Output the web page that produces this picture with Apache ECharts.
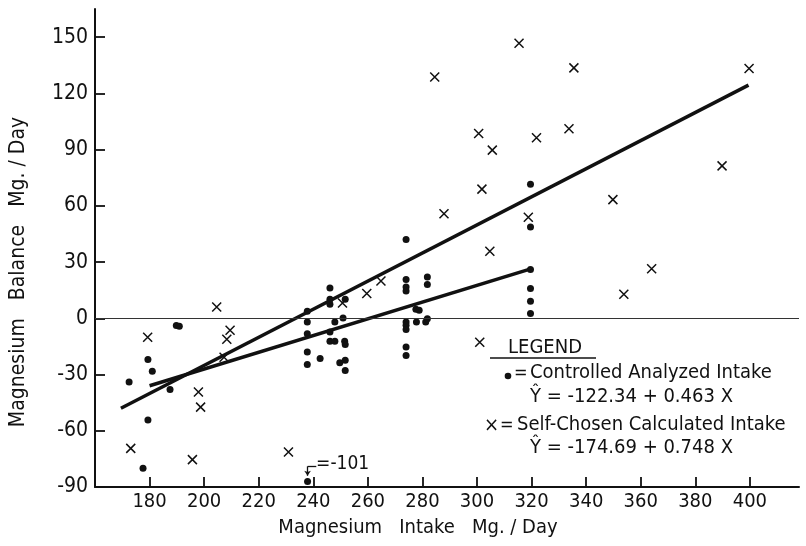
<!DOCTYPE html>
<html>
<head>
<meta charset="utf-8">
<script src="https://cdn.jsdelivr.net/npm/echarts@6/dist/echarts.min.js"></script>
<style>html,body{margin:0;padding:0;background:#fff}#c{width:806px;height:546px}</style>
</head>
<body>
<div id="c"></div>
<script>
const FONT = '"Liberation Sans Narrow","DejaVu Sans Condensed","Roboto Condensed","Liberation Sans",sans-serif';
const INK = '#111111';

const xTicks = [180, 200, 220, 240, 260, 280, 300, 320, 340, 360, 380, 400];
const yTicks = [-90, -60, -30, 0, 30, 60, 90, 120, 150];

// Controlled analyzed intake (dots)
const controlled = [
  [172.5, -34], [177.6, -80], [179.4, -22], [179.4, -54.3], [181, -28.3], [187.5, -38], [189.8, -3.9], [190.9, -4.3],
  [237.8, 3.7], [237.8, -2], [237.8, -8.2], [237.8, -18], [237.8, -24.7], [242.5, -21.5],
  [246.1, 16.2], [246.1, 10.1], [246.1, 7.5], [246.1, -7.3], [246.1, -12.3], [247.9, -12.3], [247.9, -2],
  [250.9, 0.2], [251.7, 10.1], [251.5, -12.3], [251.7, -14], [249.7, -23.7], [251.7, -22.4], [251.7, -27.8],
  [274, 42], [274, 20.7], [274, 16.7], [274, 14.6], [274, -2], [274, -3.7], [274, -6], [274, -15.3], [274, -19.8],
  [277.6, 4.8], [278.8, 4.3], [277.8, -2], [281.2, -2], [281.8, -0.2], [281.8, 22], [281.8, 18],
  [319.6, 71.5], [319.6, 48.7], [319.6, 26], [319.6, 15.9], [319.6, 9.1], [319.6, 2.5]
];

// Self-chosen calculated intake (crosses)
const selfChosen = [
  [173.1, -69.4], [179.3, -10.1], [195.7, -75.4], [197.9, -39.3], [198.7, -47.4], [204.6, 6], [208.3, -11.2],
  [209.5, -6.4], [207.3, -20.8], [230.9, -71.3], [250.7, 8.2], [259.6, 13.2], [264.8, 19.9], [284.5, 128.7],
  [287.9, 55.8], [300.6, 98.6], [301, -12.8], [301.8, 68.9], [304.7, 35.8], [305.6, 89.7], [315.4, 146.7],
  [318.8, 53.9], [321.8, 96.3], [333.7, 101.1], [335.5, 133.6], [349.8, 63.3], [353.8, 12.8], [364, 26.4],
  [389.8, 81.3], [399.7, 133.3]
];

// Regression lines (end points)
const controlledFit = [[180, -36], [320, 26.5]];
const selfFit = [[169.5, -48], [399.5, 124.4]];

// Off-scale controlled point (drawn at the bottom edge, true value -101)
const offScale = { x: 237.9, shownAt: -87, actual: -101 };

const legendTitle = 'LEGEND';
const legendControlled = 'Controlled Analyzed Intake';
const eqControlled = 'Ŷ = -122.34 + 0.463 X';
const legendSelf = 'Self-Chosen Calculated Intake';
const eqSelf = 'Ŷ = -174.69 + 0.748 X';

const chart = echarts.init(document.getElementById('c'), null, { renderer: 'canvas' });

const txt = (text, left, y, size) => ({
  type: 'text', left: left, top: y - size * 0.6,
  style: { text: text, fill: INK, font: size + 'px ' + FONT }
});

chart.setOption({
  animation: false,
  backgroundColor: '#fff',
  textStyle: { fontFamily: FONT, color: INK },
  grid: { left: 90, right: 7, top: 9, bottom: 59, containLabel: false },
  xAxis: {
    type: 'value', min: 160, max: 418,
    name: 'Magnesium   Intake   Mg. / Day',
    nameLocation: 'middle', nameGap: 31,
    nameTextStyle: { fontSize: 20, color: INK, fontFamily: FONT, padding: [0, 58, 0, 0] },
    axisLine: { show: true, onZero: false, lineStyle: { color: INK, width: 2 } },
    axisTick: { show: true, inside: true, length: 10, customValues: xTicks, lineStyle: { color: INK, width: 1.8 } },
    axisLabel: { customValues: xTicks, fontSize: 20, color: INK, margin: 5, fontFamily: FONT },
    splitLine: { show: false }
  },
  yAxis: {
    type: 'value', min: -90, max: 165,
    name: 'Magnesium   Balance   Mg. / Day',
    nameLocation: 'middle', nameGap: 66, nameRotate: 90,
    nameTextStyle: { fontSize: 21, color: INK, fontFamily: FONT, padding: [0, 48, 0, 0] },
    axisLine: { show: true, onZero: false, lineStyle: { color: INK, width: 2 } },
    axisTick: { show: true, inside: true, length: 10, customValues: yTicks, lineStyle: { color: INK, width: 1.8 } },
    axisLabel: { customValues: yTicks, fontSize: 21, color: INK, margin: 7, fontFamily: FONT },
    splitLine: { show: false }
  },
  series: [
    {
      type: 'scatter', name: 'Controlled', data: controlled,
      symbol: 'circle', symbolSize: 7, itemStyle: { color: INK, opacity: 1 },
      markLine: {
        silent: true, symbol: 'none', label: { show: false },
        lineStyle: { color: '#333333', width: 1, type: 'solid' },
        data: [{ yAxis: 0 }]
      }
    },
    {
      type: 'scatter', name: 'Self-Chosen', data: selfChosen,
      symbol: 'path://M0,0L10,10M10,0L0,10', symbolSize: 9,
      itemStyle: { color: 'none', borderColor: INK, borderWidth: 1.5, opacity: 1 }
    },
    {
      type: 'line', data: controlledFit, symbol: 'none',
      lineStyle: { color: INK, width: 3.5 }
    },
    {
      type: 'line', data: selfFit, symbol: 'none',
      lineStyle: { color: INK, width: 3.5 }
    },
    {
      type: 'scatter', name: 'Off scale',
      data: [{
        value: [offScale.x, offScale.shownAt],
        label: { show: true, position: 'right', distance: 5, offset: [0, -17],
          formatter: '=' + offScale.actual, fontSize: 19, color: INK, fontFamily: FONT }
      }],
      symbol: 'circle', symbolSize: 7, itemStyle: { color: INK, opacity: 1 },
      markLine: {
        silent: true, label: { show: false }, symbolSize: [0, 0],
        lineStyle: { color: INK, width: 1.3, type: 'solid', opacity: 1 },
        data: [
          [{ coord: [offScale.x, -79], symbol: 'none' }, { coord: [offScale.x, -84], symbol: 'arrow', symbolSize: 5 }],
          [{ coord: [offScale.x, -79], symbol: 'none' }, { coord: [offScale.x + 3.2, -79], symbol: 'none' }]
        ]
      }
    }
  ],
  graphic: [
    txt(legendTitle, 508, 350, 20),
    { type: 'line', shape: { x1: 490, y1: 358, x2: 596, y2: 358 }, style: { stroke: INK, lineWidth: 1.5 } },
    { type: 'circle', shape: { cx: 508, cy: 376, r: 3.3 }, style: { fill: INK } },
    txt('=', 514, 375, 18),
    txt(legendControlled, 530, 375, 20),
    txt(eqControlled, 530, 399, 20),
    txt('×', 484, 428, 20),
    txt('=', 500, 427, 18),
    txt(legendSelf, 517, 427, 20),
    txt(eqSelf, 530, 450, 20)
  ]
});
</script>
</body>
</html>
